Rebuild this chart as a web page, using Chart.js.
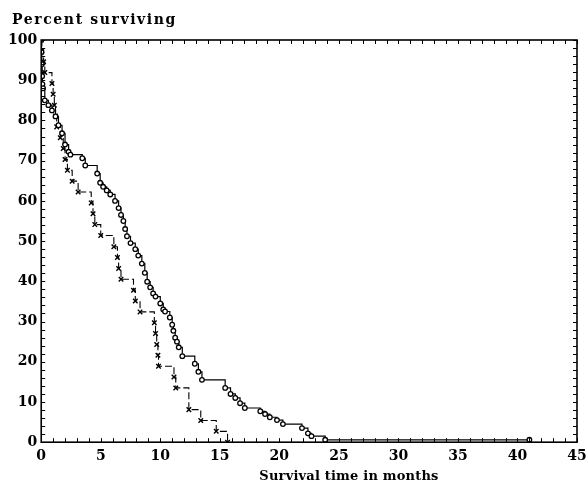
<!DOCTYPE html>
<html>
<head>
    <title>Percent surviving</title>
    <script src="https://cdn.jsdelivr.net/npm/chart.js"></script>
    <style>
        body { margin: 0; background: #fff; }
    </style>
</head>
<body>
    <canvas id="survivalChart" width="587" height="484"></canvas>
    <script>
        // group drawn with open circles (solid step line)
        var circleTimes = [0, 0.02, 0.05, 0.08, 0.1, 0.15, 0.3, 0.6, 0.9, 1.2, 1.45, 1.75, 2.0, 2.3, 2.45,
            3.45, 3.7, 4.7, 4.95, 5.2, 5.5, 5.8, 6.2, 6.5, 6.7, 6.9, 7.05, 7.2, 7.5, 7.9, 8.15, 8.45, 8.7,
            8.9, 9.15, 9.4, 9.6, 10.0, 10.25, 10.4, 10.8, 11.0, 11.1, 11.25, 11.4, 11.55, 11.85, 12.9, 13.2,
            13.5, 15.45, 15.9, 16.3, 16.7, 17.1, 18.4, 18.8, 19.2, 19.8, 20.3, 21.9, 22.4, 22.7, 23.85, 41];
        var circleSurvival = [100, 97, 94, 91, 89, 88, 85, 83.8, 82.5, 81, 78.8, 76.8, 74, 72.2, 71.5,
            70.6, 68.8, 66.8, 64.5, 63.5, 62.6, 61.6, 60, 58.2, 56.5, 55, 53, 51.2, 49.5, 48, 46.4, 44.4, 42.1,
            39.9, 38.5, 37, 36.2, 34.5, 33, 32.5, 31, 29.2, 27.7, 26, 25, 23.6, 21.4, 19.5, 17.5,
            15.5, 13.5, 12, 11, 9.7, 8.5, 7.7, 7, 6.2, 5.5, 4.5, 3.5, 2.2, 1.5, 0.6, 0.6];

        // group drawn with crosses (dashed step line)
        var crossTimes = [0, 0.05, 0.2, 0.3, 0.9, 1.0, 1.1, 1.2, 1.3, 1.6, 1.85, 2.0, 2.2, 2.6, 3.1,
            4.2, 4.35, 4.5, 5.0, 6.1, 6.4, 6.5, 6.7, 7.75, 7.9, 8.3, 9.5, 9.6, 9.7, 9.8, 9.85,
            11.15, 11.3, 12.4, 13.4, 14.7, 15.65];
        var crossSurvival = [100, 97.3, 94.6, 91.9, 89.2, 86.5, 83.8, 81.1, 78.4, 75.7, 73.0, 70.3, 67.6, 64.9, 62.2,
            59.5, 56.8, 54.1, 51.4, 48.6, 45.9, 43.2, 40.5, 37.8, 35.1, 32.4, 29.7, 27.0, 24.3, 21.6, 18.9,
            16.2, 13.5, 8.1, 5.4, 2.7, 0];

        var xTickLabels = ['0', '5', '10', '15', '20', '25', '30', '35', '40', '45'];
        var yTickLabels = ['0', '10', '20', '30', '40', '50', '60', '70', '80', '90', '100'];

        function toPoints(times, values) {
            var pts = [];
            for (var i = 0; i < times.length; i++) {
                pts.push({ x: times[i], y: values[i] });
            }
            return pts;
        }

        var serif = '"DejaVu Serif", "Liberation Serif", serif';

        // frame, inward ticks on all four sides and the two axis titles
        var framePlugin = {
            id: 'frame',
            afterDraw: function (chart) {
                var ctx = chart.ctx;
                var a = chart.chartArea;
                var xs = chart.scales.x, ys = chart.scales.y;
                ctx.save();
                ctx.strokeStyle = '#000';
                ctx.lineWidth = 1.6;
                ctx.strokeRect(a.left, a.top, a.right - a.left, a.bottom - a.top);
                ctx.lineWidth = 1;
                ctx.beginPath();
                xs.ticks.forEach(function (t) {
                    var px = Math.round(xs.getPixelForValue(t.value)) + 0.5;
                    ctx.moveTo(px, a.bottom); ctx.lineTo(px, a.bottom - 4);
                    ctx.moveTo(px, a.top); ctx.lineTo(px, a.top + 4);
                });
                ys.ticks.forEach(function (t) {
                    var py = Math.round(ys.getPixelForValue(t.value)) + 0.5;
                    ctx.moveTo(a.left, py); ctx.lineTo(a.left + 4, py);
                    ctx.moveTo(a.right, py); ctx.lineTo(a.right - 4, py);
                });
                ctx.stroke();

                ctx.fillStyle = '#000';
                ctx.textBaseline = 'alphabetic';
                ctx.font = 'bold 14px ' + serif;
                ctx.letterSpacing = '1.6px';
                ctx.textAlign = 'left';
                ctx.fillText('Percent surviving', 12, 24);
                ctx.font = 'bold 13px ' + serif;
                ctx.letterSpacing = '0.2px';
                ctx.textAlign = 'center';
                ctx.fillText('Survival time in months', 349, 480);
                ctx.restore();
            }
        };

        var ctx = document.getElementById('survivalChart').getContext('2d');
        var chart = new Chart(ctx, {
            type: 'scatter',
            data: {
                datasets: [{
                    label: 'circles',
                    data: toPoints(circleTimes, circleSurvival),
                    showLine: true,
                    stepped: 'before',
                    borderColor: '#000',
                    borderWidth: 1.2,
                    pointStyle: 'circle',
                    pointRadius: 2.3,
                    pointBorderWidth: 1.3,
                    pointBackgroundColor: '#fff',
                    pointBorderColor: '#000'
                }, {
                    label: 'crosses',
                    data: toPoints(crossTimes, crossSurvival),
                    showLine: true,
                    stepped: 'before',
                    borderColor: '#000',
                    borderWidth: 1.1,
                    borderDash: [7, 3],
                    pointStyle: 'crossRot',
                    pointRadius: 3.2,
                    pointBorderWidth: 1.4,
                    pointBorderColor: '#000'
                }]
            },
            options: {
                responsive: false,
                animation: false,
                devicePixelRatio: 1,
                layout: { padding: { top: 40, right: 10, bottom: 13, left: 4 } },
                plugins: {
                    legend: { display: false },
                    tooltip: { enabled: false }
                },
                scales: {
                    x: {
                        type: 'linear',
                        min: 0,
                        max: 45,
                        grid: { display: false, drawTicks: false },
                        border: { display: false },
                        afterFit: function (scale) {
                            // the "45" label may hang past the frame, as in the original
                            scale.paddingRight = 0;
                        },
                        ticks: {
                            stepSize: 1,
                            autoSkip: false,
                            maxRotation: 0,
                            padding: 6,
                            color: '#000',
                            font: { family: serif, size: 14, weight: 'bold' },
                            callback: function (v) { return v % 5 === 0 ? xTickLabels[v / 5] : ''; }
                        }
                    },
                    y: {
                        min: 0,
                        max: 100,
                        grid: { display: false, drawTicks: false },
                        border: { display: false },
                        ticks: {
                            stepSize: 2,
                            autoSkip: false,
                            padding: 4,
                            color: '#000',
                            font: { family: serif, size: 14, weight: 'bold' },
                            callback: function (v) { return v % 10 === 0 ? yTickLabels[v / 10] : ''; }
                        }
                    }
                }
            },
            plugins: [framePlugin]
        });
    </script>
</body>
</html>
